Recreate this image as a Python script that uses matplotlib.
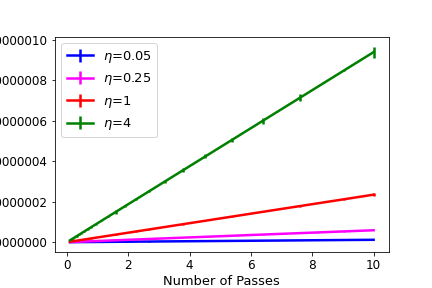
import matplotlib
matplotlib.use("Agg")
import matplotlib.pyplot as plt
import numpy as np

passes = [0.10, 0.12, 0.14, 0.17, 0.20, 0.23, 0.28, 0.33, 0.40, 0.47, 0.56, 0.67, 0.79, 0.94,
          1.12, 1.34, 1.59, 1.89, 2.25, 2.68, 3.19, 3.79, 4.51, 5.37, 6.39, 7.60, 9.04, 10.0]

# increments above 1.0, in units of 1e-6
inc_005 = [0.0001, 0.0001, 0.0002, 0.0002, 0.0002, 0.0003, 0.0003, 0.0004, 0.0005, 0.0006, 0.0007,
           0.0008, 0.0009, 0.0011, 0.0013, 0.0016, 0.0019, 0.0022, 0.0027, 0.0032, 0.0038, 0.0045,
           0.0053, 0.0063, 0.0075, 0.0090, 0.0107, 0.0118]
inc_025 = [0.0006, 0.0007, 0.0008, 0.0010, 0.0012, 0.0014, 0.0017, 0.0019, 0.0024, 0.0028, 0.0033,
           0.0040, 0.0047, 0.0055, 0.0066, 0.0079, 0.0094, 0.0112, 0.0133, 0.0158, 0.0188, 0.0224,
           0.0266, 0.0317, 0.0377, 0.0448, 0.0533, 0.0590]
inc_1 = [0.0024, 0.0028, 0.0033, 0.0040, 0.0047, 0.0054, 0.0066, 0.0078, 0.0094, 0.0110, 0.0132,
         0.0157, 0.0186, 0.0221, 0.0263, 0.0315, 0.0374, 0.0444, 0.0529, 0.0630, 0.0750, 0.0891,
         0.1060, 0.1262, 0.1502, 0.1786, 0.2124, 0.2350]
inc_4 = [0.0094, 0.0113, 0.0132, 0.0160, 0.0188, 0.0216, 0.0263, 0.0310, 0.0376, 0.0442, 0.0526,
         0.0630, 0.0743, 0.0884, 0.1053, 0.1260, 0.1495, 0.1777, 0.2115, 0.2519, 0.2999, 0.3563,
         0.4239, 0.5048, 0.6007, 0.7144, 0.8498, 0.9400]

err_005 = [0.0003] * 28
err_025 = [0.0005] * 28
err_1 = [0.001] * 20 + [0.002, 0.002, 0.002, 0.003, 0.003, 0.004, 0.003, 0.006]
err_4 = [0.003] * 16 + [0.008, 0.004, 0.005, 0.006, 0.009, 0.009, 0.010, 0.011, 0.014, 0.017, 0.003, 0.027]

labels = [r"$\eta$=0.05", r"$\eta$=0.25", r"$\eta$=1", r"$\eta$=4"]
colors = ["blue", "magenta", "red", "green"]
series = [inc_005, inc_025, inc_1, inc_4]
errors = [err_005, err_025, err_1, err_4]

fig = plt.figure(figsize=(6, 4), dpi=72)
ax = fig.add_axes([0.127, 0.125, 0.773, 0.747])
for inc, err, lab, col in zip(series, errors, labels, colors):
    y = 1.0 + np.array(inc) * 1e-6
    e = np.array(err) * 1e-6
    ax.errorbar(passes, y, yerr=e, color=col, label=lab, linewidth=2.5, elinewidth=2.5)

ax.yaxis.set_major_formatter(matplotlib.ticker.FormatStrFormatter("%.7f"))
ax.set_yticks([1.0, 1.0000002, 1.0000004, 1.0000006, 1.0000008, 1.000001])
ax.tick_params(labelsize=12)
ax.set_xlabel("Number of Passes", fontsize=13, labelpad=3)
ax.legend(loc="upper left", fontsize=13)
fig.savefig("out.png", dpi=72)
